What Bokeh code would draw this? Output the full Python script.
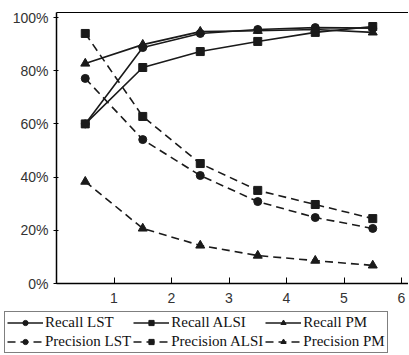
from bokeh.plotting import figure
from bokeh.models import (Legend, LegendItem, FixedTicker, Range1d, LinearAxis,
                          CustomLabelingPolicy)
from bokeh.core.properties import value
from bokeh.embed import file_html
from bokeh.resources import INLINE

x = [0.5, 1.5, 2.5, 3.5, 4.5, 5.5]
recall_lst = [0.60, 0.887, 0.94, 0.955, 0.962, 0.96]
recall_alsi = [0.60, 0.812, 0.872, 0.91, 0.944, 0.966]
recall_pm = [0.827, 0.898, 0.947, 0.95, 0.955, 0.944]
prec_lst = [0.771, 0.541, 0.406, 0.308, 0.248, 0.207]
prec_alsi = [0.94, 0.628, 0.451, 0.35, 0.297, 0.244]
prec_pm = [0.383, 0.207, 0.143, 0.105, 0.086, 0.068]
y_ticks = [0, 0.2, 0.4, 0.6, 0.8, 1.0]
y_tick_labels = ["0%", "20%", "40%", "60%", "80%", "100%"]
x_ticks = [1, 2, 3, 4, 5, 6]
x_tick_labels = ["1", "2", "3", "4", "5", "6"]
y_top = 1.019

W, H = 408, 354
# plotting area: origin at (56, 283) px from top-left; 57.5 px per x unit, 266 px per y unit
x_range = Range1d(-56 / 57.5, (W - 56) / 57.5)
y_range = Range1d(-(H - 283) / 266, 283 / 266)

p = figure(width=W, height=H, output_backend="svg", toolbar_location=None,
           x_range=x_range, y_range=y_range,
           x_axis_location=None, y_axis_location=None,
           min_border_left=0, min_border_top=0, min_border_right=0, min_border_bottom=0)
p.xgrid.visible = False
p.ygrid.visible = False
p.outline_line_color = None

def hide_labels():
    return CustomLabelingPolicy(code="for (const i of indices) indices.unset(i)\nreturn indices")

xaxis = LinearAxis(fixed_location=0, ticker=FixedTicker(ticks=x_ticks),
                   axis_line_color="black", axis_line_width=1.5,
                   major_tick_line_color="black", major_tick_in=6, major_tick_out=0,
                   minor_tick_line_color=None, major_label_text_font_size="0px",
                   major_label_standoff=0, major_label_policy=hide_labels(),
                   bounds=(0, x_range.end))
yaxis = LinearAxis(fixed_location=0, ticker=FixedTicker(ticks=y_ticks),
                   axis_line_color="black", axis_line_width=1.5,
                   major_tick_line_color="black", major_tick_in=2, major_tick_out=3,
                   minor_tick_line_color=None, major_label_text_font_size="0px",
                   major_label_standoff=0, major_label_policy=hide_labels(),
                   bounds=(0, y_top))
topaxis = LinearAxis(fixed_location=y_top, ticker=FixedTicker(ticks=[]),
                     axis_line_color="black", axis_line_width=1.2,
                     major_tick_line_color=None, minor_tick_line_color=None,
                     major_label_text_font_size="0px", major_label_standoff=0,
                     major_label_policy=hide_labels(),
                     bounds=(0, x_range.end))
p.add_layout(xaxis, "below")
p.add_layout(yaxis, "left")
p.add_layout(topaxis, "above")

p.text(x=[0] * len(y_ticks), y=y_ticks, text=y_tick_labels, x_offset=-8,
       text_align="right", text_baseline="middle", text_font=value("Liberation Sans"),
       text_font_size="14px", text_color="#333333")
p.text(x=x_ticks, y=[0] * len(x_ticks), text=x_tick_labels, y_offset=14,
       text_align="center", text_baseline="middle", text_font=value("Liberation Sans"),
       text_font_size="14px", text_color="#333333")

col = "#1a1a1a"
series = [
    ("Recall LST", recall_lst, "circle", None),
    ("Recall ALSI", recall_alsi, "square", None),
    ("Recall PM", recall_pm, "triangle", None),
    ("Precision LST", prec_lst, "circle", "8 5"),
    ("Precision ALSI", prec_alsi, "square", "8 5"),
    ("Precision PM", prec_pm, "triangle", "8 5"),
]
items = []
for name, ys, marker, dash in series:
    kw = dict(line_color=col, line_width=1.6)
    if dash:
        kw["line_dash"] = dash
    l = p.line(x, ys, **kw)
    s = p.scatter(x, ys, marker=marker, size=8 if marker != "triangle" else 9,
                  fill_color=col, line_color=col)
    items.append(LegendItem(label=name, renderers=[l, s]))

legend = Legend(items=items, orientation="horizontal", ncols=3, location=(4, 1),
                border_line_color="black", border_line_width=1.2,
                label_text_font="Liberation Serif", label_text_font_size="15px",
                label_text_color="#111111", label_text_baseline="middle",
                glyph_width=36, glyph_height=13, label_height=13,
                label_standoff=2, spacing=2, padding=2, margin=0,
                background_fill_alpha=1)
p.add_layout(legend, "center")

open("out.html", "w").write(file_html(p, INLINE))
